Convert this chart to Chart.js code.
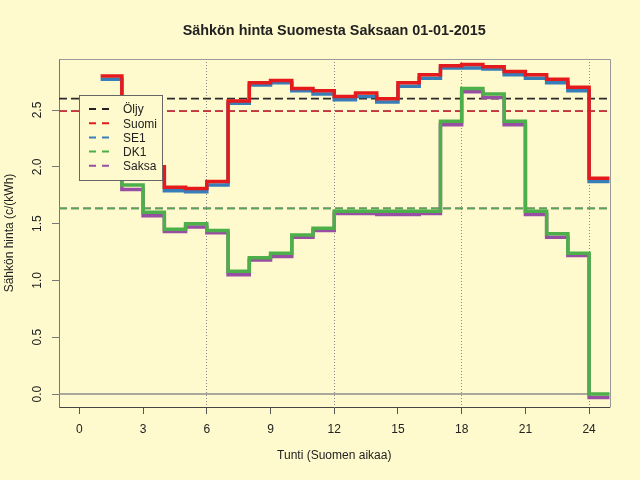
<!DOCTYPE html>
<html>
<head>
<meta charset="utf-8">
<title>Sähkön hinta Suomesta Saksaan 01-01-2015</title>
<script src="https://cdn.jsdelivr.net/npm/chart.js@4.4.1/dist/chart.umd.min.js"></script>
<style>
  html, body { margin: 0; padding: 0; background: #fffacd; }
  #wrap { width: 640px; height: 480px; }
</style>
</head>
<body>
<div id="wrap"><canvas id="chart" width="640" height="480"></canvas></div>
<script>
// Hour at which each price level starts (Finnish time)
const hours = [1, 2, 3, 4, 5, 6, 7, 8, 9, 10, 11, 12, 13, 14, 15, 16, 17, 18, 19, 20, 21, 22, 23, 24];

// Hourly prices, c/kWh
const suomi = [2.80, 2.30, 2.00, 1.82, 1.81, 1.87, 2.58, 2.74, 2.76, 2.69, 2.67, 2.62,
               2.65, 2.60, 2.74, 2.81, 2.89, 2.90, 2.88, 2.84, 2.81, 2.77, 2.70, 1.90];
const se1   = [2.77, 2.27, 1.97, 1.79, 1.78, 1.84, 2.56, 2.72, 2.74, 2.67, 2.64, 2.59,
               2.62, 2.57, 2.71, 2.78, 2.87, 2.87, 2.86, 2.81, 2.78, 2.74, 2.67, 1.87];
const dk1   = [2.45, 1.84, 1.60, 1.45, 1.50, 1.44, 1.08, 1.20, 1.24, 1.40, 1.46, 1.61,
               1.61, 1.61, 1.61, 1.61, 2.40, 2.69, 2.64, 2.40, 1.61, 1.41, 1.24, 0.00];
const saksa = [2.42, 1.80, 1.57, 1.43, 1.47, 1.42, 1.05, 1.18, 1.21, 1.38, 1.44, 1.59,
               1.59, 1.58, 1.58, 1.59, 2.37, 2.66, 2.61, 2.37, 1.58, 1.38, 1.22, -0.03];

// Horizontal dashed levels (oil reference and daily averages)
const seriesNames = ['Öljy', 'Suomi', 'SE1', 'DK1', 'Saksa'];
const levels      = [2.60, 2.49, 2.49, 1.635, 1.635];

const xTicks = [0, 3, 6, 9, 12, 15, 18, 21, 24];
const yTicks = [0, 0.5, 1.0, 1.5, 2.0, 2.5];
const yTickLabels = ['0.0', '0.5', '1.0', '1.5', '2.0', '2.5'];

const X_MIN = -0.96, X_MAX = 24.96;
const Y_MIN = -0.114, Y_MAX = 2.949;

const BG = '#fffacd';
const FONT = '"Liberation Sans", Arial, sans-serif';
const colors = ['#222222', '#e41a1c', '#377eb8', '#4daf4a', '#984ea3'];
// the average lines look a touch duller than the steps in the original
const levelColors = ['#2a2a2a', '#cc3436', '#3d7bb0', '#55a851', '#8f5399'];

// R type="s": each level runs horizontally to the next hour, last one to the end of its hour
function steps(values) {
    const pts = values.map((v, i) => ({ x: hours[i], y: v }));
    pts.push({ x: hours[hours.length - 1] + 1, y: values[values.length - 1] });
    return pts;
}

function hline(v) {
    return [{ x: X_MIN, y: v }, { x: X_MAX, y: v }];
}

function stepSet(label, values, color, order) {
    return {
        label: label,
        data: steps(values),
        borderColor: color,
        borderWidth: 3.5,
        stepped: true,
        pointRadius: 0,
        fill: false,
        clip: 0,
        order: order,
    };
}

function levelSet(i, order) {
    return {
        label: seriesNames[i] + ' (taso)',
        data: hline(levels[i]),
        borderColor: levelColors[i],
        borderWidth: 1.7,
        borderDash: [8, 4],
        pointRadius: 0,
        fill: false,
        clip: 0,
        order: order,
    };
}

const rBits = {
    id: 'rBits',
    beforeDraw(chart) {
        const { ctx } = chart;
        ctx.save();
        ctx.fillStyle = BG;
        ctx.fillRect(0, 0, chart.width, chart.height);
        ctx.restore();
    },
    afterDraw(chart) {
        const { ctx, chartArea: a } = chart;
        const x = chart.scales.x, y = chart.scales.y;
        ctx.save();

        // top and right of the plot box
        ctx.strokeStyle = '#999999';
        ctx.lineWidth = 1;
        ctx.beginPath();
        ctx.moveTo(Math.round(a.left) + 0.5, Math.round(a.top) + 0.5);
        ctx.lineTo(Math.round(a.right) + 0.5, Math.round(a.top) + 0.5);
        ctx.lineTo(Math.round(a.right) + 0.5, Math.round(a.bottom) + 0.5);
        ctx.stroke();

        // title, centred over the plot region
        ctx.fillStyle = '#222222';
        ctx.font = 'bold 14.4px ' + FONT;
        ctx.textAlign = 'center';
        ctx.textBaseline = 'alphabetic';
        ctx.fillText('Sähkön hinta Suomesta Saksaan 01-01-2015', (a.left + a.right) / 2, 35);

        // y tick labels, parallel to the axis
        ctx.font = '12px ' + FONT;
        ctx.textBaseline = 'middle';
        yTicks.forEach((v, i) => {
            ctx.save();
            ctx.translate(38, y.getPixelForValue(v));
            ctx.rotate(-Math.PI / 2);
            ctx.fillText(yTickLabels[i], 0, 0);
            ctx.restore();
        });

        // legend box
        const lx = Math.round(x.getPixelForValue(0)) + 0.5;
        const ly = 95.5, lw = 83, lh = 85;
        ctx.fillStyle = BG;
        ctx.fillRect(lx, ly, lw, lh);
        ctx.strokeStyle = '#666666';
        ctx.strokeRect(lx, ly, lw, lh);
        ctx.textAlign = 'left';
        seriesNames.forEach((name, i) => {
            const ry = 109 + i * 14.2;
            ctx.strokeStyle = colors[i];
            ctx.lineWidth = 2;
            ctx.setLineDash([7, 6]);
            ctx.beginPath();
            ctx.moveTo(lx + 9.5, ry);
            ctx.lineTo(lx + 29.5, ry);
            ctx.stroke();
            ctx.setLineDash([]);
            ctx.fillStyle = '#222222';
            ctx.fillText(name, lx + 43.5, ry + 1);
        });
        ctx.restore();
    }
};

new Chart(document.getElementById('chart'), {
    type: 'line',
    data: {
        datasets: [
            stepSet('Suomi', suomi, colors[1], 0),
            stepSet('SE1', se1, colors[2], 1),
            stepSet('DK1', dk1, colors[3], 2),
            stepSet('Saksa', saksa, colors[4], 3),
            levelSet(0, 4),
            levelSet(1, 5),
            levelSet(3, 6),
            levelSet(2, 7),
            levelSet(4, 8),
            {
                label: 'nolla',
                data: hline(0),
                borderColor: '#8c8c8c',
                borderWidth: 1.5,
                pointRadius: 0,
                fill: false,
                clip: 0,
                order: 9,
            },
        ],
    },
    plugins: [rBits],
    options: {
        responsive: false,
        animation: false,
        events: [],
        layout: { padding: { top: 59, right: 30.5, bottom: 0, left: 0 } },
        plugins: {
            legend: { display: false },
            tooltip: { enabled: false },
            title: { display: false },
        },
        scales: {
            x: {
                type: 'linear',
                min: X_MIN,
                max: X_MAX,
                afterBuildTicks: (s) => { s.ticks = xTicks.map((v) => ({ value: v })); },
                afterFit: (s) => { s.height = 73; },
                ticks: {
                    color: '#222222',
                    font: { family: FONT, size: 12 },
                    padding: 8,
                    maxRotation: 0,
                    autoSkip: false,
                },
                grid: {
                    // dotted verticals every six hours
                    color: (c) => (c.tick && c.tick.value > 0 && c.tick.value % 6 === 0) ? '#8a8a8a' : 'rgba(0,0,0,0)',
                    lineWidth: 1,
                    tickLength: 7,
                    tickColor: '#555555',
                    tickWidth: 1,
                },
                border: { display: true, color: '#444444', width: 1, dash: [1, 2] },
                title: {
                    display: true,
                    text: 'Tunti (Suomen aikaa)',
                    color: '#222222',
                    font: { family: FONT, size: 12 },
                    padding: { top: 0, bottom: 16.8 },
                },
            },
            y: {
                type: 'linear',
                min: Y_MIN,
                max: Y_MAX,
                afterBuildTicks: (s) => { s.ticks = yTicks.map((v) => ({ value: v })); },
                afterFit: (s) => { s.width = 59; },
                ticks: { display: false },
                grid: {
                    drawOnChartArea: false,
                    tickLength: 7,
                    tickColor: '#777777',
                    tickWidth: 1,
                },
                border: { display: true, color: '#777777', width: 1 },
                title: {
                    display: true,
                    text: 'Sähkön hinta (c/(kWh)',
                    color: '#222222',
                    font: { family: FONT, size: 12 },
                    padding: { top: 2, bottom: 0 },
                },
            },
        },
    },
});
</script>
</body>
</html>
